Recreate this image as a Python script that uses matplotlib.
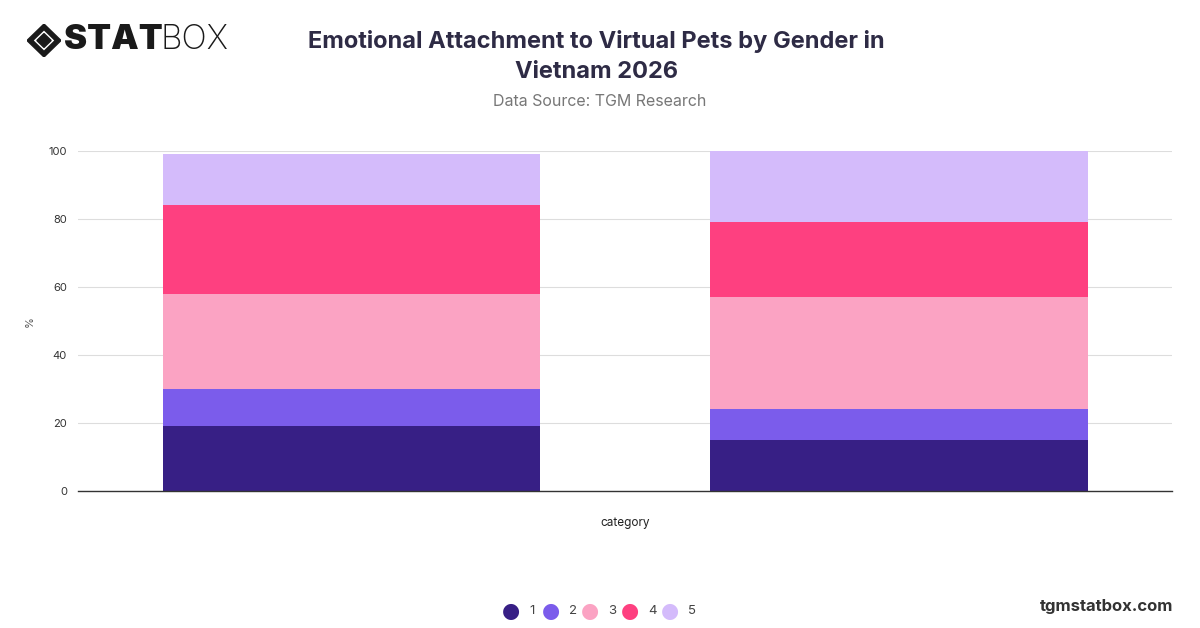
import matplotlib.pyplot as plt
from matplotlib.patches import Polygon
import numpy as np

plt.rcParams['font.family'] = ['Inter', 'DejaVu Sans']

# data
categories = ['', '']
series_names = ['1', '2', '3', '4', '5']
s1 = [19, 15]
s2 = [11, 9]
s3 = [28, 33]
s4 = [26, 22]
s5 = [15, 21]
colors = ['#371f85', '#7b5ceb', '#fba3c3', '#fe4080', '#d4bbfb']

fig = plt.figure(figsize=(12, 6.28), dpi=100)
ax = fig.add_axes([0.065, 0.218, 0.912, 0.5414])

x = np.arange(len(categories))
bottom = np.zeros(len(categories))
for name, vals, col in zip(series_names, [s1, s2, s3, s4, s5], colors):
    ax.bar(x, vals, bottom=bottom, width=0.69, color=col, label=name, zorder=2)
    bottom += np.array(vals)

ax.set_xlim(-0.5, 1.5)
ax.set_ylim(0, 100)
ax.set_yticks([0, 20, 40, 60, 80, 100])
ax.set_xticks(x)
ax.set_xticklabels(categories)
ax.tick_params(axis='y', length=0, labelsize=8, colors='#333333', pad=8)
ax.tick_params(axis='x', length=0)
ax.grid(axis='y', color='#dddddd', linewidth=0.8, zorder=0)
for sp in ['top', 'right', 'left']:
    ax.spines[sp].set_visible(False)
ax.spines['bottom'].set_color('#333333')
ax.spines['bottom'].set_linewidth(1)
ax.set_ylabel('%', fontsize=8, color='#555555', labelpad=10)
ax.set_xlabel('category', fontsize=8.5, color='#222222', labelpad=15)

# title
fig.text(0.497, 0.910, 'Emotional Attachment to Virtual Pets by Gender in\nVietnam 2026',
         ha='center', va='center', fontsize=17, fontweight='bold', color='#2e2b45',
         linespacing=1.42)
fig.text(0.5, 0.838, 'Data Source: TGM Research', ha='center', va='center',
         fontsize=11.5, color='#777777')

# legend with round markers
lx = [0.426, 0.459, 0.492, 0.525, 0.558]
for xx, col, name in zip(lx, colors, series_names):
    fig.text(xx, 0.027, '\u25cf', color=col, fontsize=15, ha='center', va='center',
             family=['DejaVu Sans'])
    fig.text(xx + 0.015, 0.027, name, color='#444444', fontsize=9.5, ha='left', va='center')

fig.text(0.978, 0.035, 'tgmstatbox.com', ha='right', va='center', fontsize=12,
         fontweight='bold', color='#333333')

# logo
lax = fig.add_axes([27 / 1200, 1 - 57 / 628, 34 / 1200, 33 / 628])
lax.set_xlim(-1, 1)
lax.set_ylim(-1, 1)
lax.axis('off')
lax.add_patch(Polygon([[0, 1], [1, 0], [0, -1], [-1, 0]], closed=True, color='#1a1a1a'))
lax.add_patch(Polygon([[0, 0.6], [0.6, 0], [0, -0.6], [-0.6, 0]], closed=True,
                      facecolor='white', edgecolor='none'))
lax.add_patch(Polygon([[0, 0.42], [0.42, 0], [0, -0.42], [-0.42, 0]], closed=True, color='#1a1a1a'))
fig.text(64 / 1200, 1 - 40 / 628, 'STAT', ha='left', va='center', fontsize=25,
         fontweight='black', color='#1a1a1a')
fig.text(161 / 1200, 1 - 40 / 628, 'BOX', ha='left', va='center', fontsize=24,
         fontweight='light', color='#1a1a1a')

fig.savefig('out.png', dpi=100)
